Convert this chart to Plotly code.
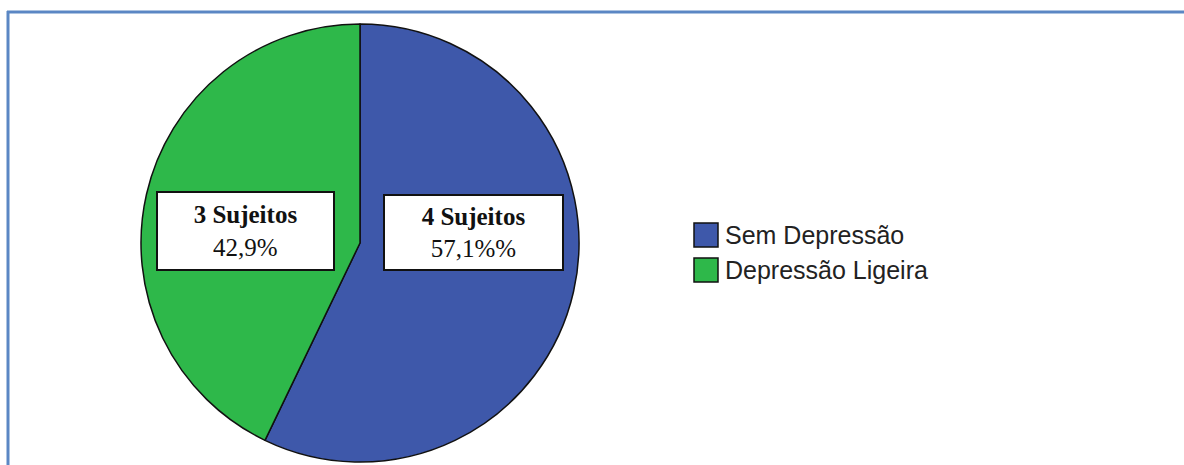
import plotly.graph_objects as go

# ---- data ----
labels = ["Sem Depressão", "Depressão Ligeira"]
values = [4, 3]
pct_text = ["57,1%%", "42,9%"]
colors = ["#3E58AA", "#2EB84A"]

W, H = 1184, 465

def px(x):
    return x / W

def py(y):
    return 1 - y / H

fig = go.Figure()
fig.add_trace(go.Pie(
    labels=labels,
    values=values,
    sort=False,
    direction="clockwise",
    rotation=0,
    textinfo="none",
    hoverinfo="label+value+percent",
    marker=dict(colors=colors, line=dict(color="#111111", width=1.5)),
    domain=dict(x=[px(140), px(580)], y=[py(462), py(24)]),
    showlegend=False,
))

# slice labels (boxes)
box_pos = [(473.5, 232.5, 177, 73), (245.5, 231, 175, 76)]
annotations = []
for i, (cx, cy, bw, bh) in enumerate(box_pos):
    annotations.append(dict(
        x=px(cx), y=py(cy), xref="paper", yref="paper",
        text=f"<b>{values[i]} Sujeitos</b><br>{pct_text[i]}",
        showarrow=False, xanchor="center", yanchor="middle",
        font=dict(family="Liberation Serif", size=25, color="#111111"),
        bgcolor="white", bordercolor="#111111", borderwidth=2, borderpad=0,
        width=bw, height=bh, align="center", valign="middle",
    ))

# custom legend
shapes = []
leg_rows = [235, 270]
for i, yc in enumerate(leg_rows):
    shapes.append(dict(
        type="rect", xref="paper", yref="paper",
        x0=px(694), x1=px(718), y0=py(yc + 12), y1=py(yc - 12),
        fillcolor=colors[i], line=dict(color="#111111", width=1.5),
    ))
    annotations.append(dict(
        x=px(723), y=py(yc), xref="paper", yref="paper",
        text=labels[i], showarrow=False, xanchor="left", yanchor="middle",
        font=dict(family="Liberation Sans", size=25, color="#222222"),
    ))

# outer frame
frame_color = "#5B87C4"
shapes.append(dict(type="line", xref="paper", yref="paper",
                   x0=px(7), x1=1, y0=py(12), y1=py(12),
                   line=dict(color=frame_color, width=3)))
shapes.append(dict(type="line", xref="paper", yref="paper",
                   x0=px(8), x1=px(8), y0=py(11), y1=0,
                   line=dict(color=frame_color, width=3)))

fig.update_layout(
    width=W, height=H, autosize=False,
    margin=dict(l=0, r=0, t=0, b=0),
    paper_bgcolor="white", plot_bgcolor="white",
    annotations=annotations, shapes=shapes,
)

fig.write_html("out.html")
